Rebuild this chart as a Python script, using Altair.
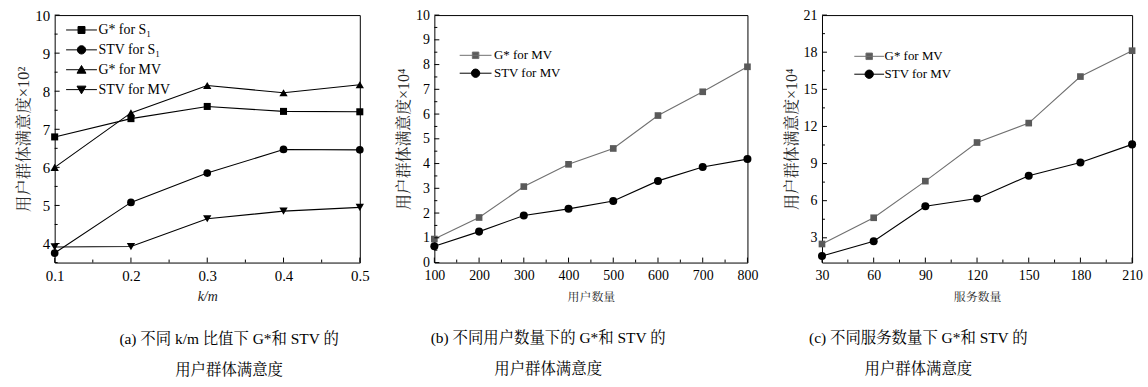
import altair as alt
import pandas as pd

SERIF = "Liberation Serif, Noto Serif CJK SC, Noto Sans CJK SC"

# ---- (a) user-group satisfaction vs k/m ----
km = [0.1, 0.2, 0.3, 0.4, 0.5]
a_names = ["G* for S₁", "STV for S₁", "G* for MV", "STV for MV"]
a_g_s1 = [6.80, 7.28, 7.60, 7.47, 7.46]
a_stv_s1 = [3.75, 5.08, 5.85, 6.47, 6.46]
a_g_mv = [6.00, 7.43, 8.15, 7.96, 8.17]
a_stv_mv = [3.91, 3.92, 4.65, 4.85, 4.95]
a_xticks = [0.1, 0.2, 0.3, 0.4, 0.5]
a_xminor = [0.15, 0.25, 0.35, 0.45]
a_yticks = [4, 5, 6, 7, 8, 9, 10]
a_yminor = [3.5, 4.5, 5.5, 6.5, 7.5, 8.5, 9.5]

# ---- (b) user-group satisfaction vs number of users ----
users = [100, 200, 300, 400, 500, 600, 700, 800]
b_names = ["G* for MV", "STV for MV"]
b_g = [0.95, 1.82, 3.07, 3.97, 4.61, 5.94, 6.90, 7.91]
b_stv = [0.66, 1.25, 1.90, 2.17, 2.49, 3.30, 3.86, 4.18]
b_xticks = users
b_xminor = [150, 250, 350, 450, 550, 650, 750]
b_yticks = [0, 1, 2, 3, 4, 5, 6, 7, 8, 9, 10]
b_yminor = [0.5, 1.5, 2.5, 3.5, 4.5, 5.5, 6.5, 7.5, 8.5, 9.5]

# ---- (c) user-group satisfaction vs number of services ----
services = [30, 60, 90, 120, 150, 180, 210]
c_names = ["G* for MV", "STV for MV"]
c_g = [2.50, 4.62, 7.58, 10.70, 12.27, 16.03, 18.12]
c_stv = [1.53, 2.72, 5.55, 6.17, 8.02, 9.08, 10.55]
c_xticks = services
c_xminor = [45, 75, 105, 135, 165, 195]
c_yticks = [3, 6, 9, 12, 15, 18, 21]
c_yminor = [1.5, 4.5, 7.5, 10.5, 13.5, 16.5, 19.5]


def legend_path(marker, half_len):
    """Legend glyph: a short line with the series marker in its middle."""
    return f"M-{half_len},0H{half_len}" + marker


SQ = "M-0.7,-0.7H0.7V0.7H-0.7Z"
SQ_S = "M-0.65,-0.65H0.65V0.65H-0.65Z"
CI = "M0.84,0A0.84,0.84,0,1,1,-0.84,0A0.84,0.84,0,1,1,0.84,0Z"
TU = "M0,-0.85L0.9,0.7H-0.9Z"
TD = "M0,0.85L0.9,-0.7H-0.9Z"


def panel(xs, ys_list, names, shapes, sizes, fills, strokes, legend_glyphs,
          xdom, ydom, xticks, xminor, yticks, yminor, W, H,
          xtitle, xtitle_style, xtitle_size, xfmt, ytitle, ytitle_size,
          ytitle_color, label_size, leg_off_edge, leg_sym_off, leg_size,
          leg_row, leg_lab_off, caption, cap_dx):
    rows = []
    for name, ys in zip(names, ys_list):
        for x, y in zip(xs, ys):
            rows.append({"x": x, "y": y, "s": name})
    df = pd.DataFrame(rows)

    xs_scale = alt.Scale(domain=xdom, nice=False, zero=False)
    ys_scale = alt.Scale(domain=ydom, nice=False, zero=False)

    x_axis = alt.Axis(values=xticks, format=xfmt, title=xtitle, grid=False,
                      ticks=False, tickSize=0, domain=False, labelOverlap=False,
                      labelFlush=False, labelFont=SERIF, labelFontSize=label_size,
                      labelColor="black", labelPadding=6, titleFont=SERIF,
                      titleFontSize=xtitle_size, titleFontWeight="normal",
                      titleFontStyle=xtitle_style, titleColor="#222", titleY=34,
                      titleBaseline="middle")
    y_axis = alt.Axis(values=yticks, title=ytitle, grid=False, ticks=False,
                      tickSize=0, domain=False, labelOverlap=False,
                      labelFlush=False, labelFont=SERIF, labelFontSize=label_size,
                      labelColor="black", labelPadding=5, titleFont=SERIF,
                      titleFontSize=ytitle_size, titleFontWeight="normal",
                      titleColor=ytitle_color, titleX=-31, titleY=H / 2,
                      titleAngle=270, titleBaseline="middle", titleAlign="center")

    X = alt.X("x:Q", scale=xs_scale, axis=x_axis)
    Y = alt.Y("y:Q", scale=ys_scale, axis=y_axis)

    layers = []
    for name, sc in zip(names, strokes):
        sub = df[df.s == name]
        layers.append(
            alt.Chart(sub).mark_line(color=sc, strokeWidth=1.1).encode(x=X, y=Y)
        )
    for name, shp, sz, fc in zip(names, shapes, sizes, fills):
        sub = df[df.s == name]
        layers.append(
            alt.Chart(sub).mark_point(shape=shp, size=sz, filled=True, color=fc,
                                      opacity=1, strokeWidth=0)
            .encode(x=X, y=Y)
        )

    leg = alt.Legend(orient="top-left", offset=leg_off_edge, title=None,
                     symbolSize=100, symbolStrokeWidth=1, symbolOpacity=1,
                     symbolOffset=leg_sym_off,
                     labelFont=SERIF, labelFontSize=leg_size, labelColor="black",
                     labelOffset=leg_lab_off, rowPadding=leg_row, padding=0,
                     labelLimit=300)

    # invisible layer that only carries the legend (line + marker glyphs)
    layers.append(
        alt.Chart(df).mark_point(filled=True, opacity=0, size=100).encode(
            x=X, y=Y,
            shape=alt.Shape("s:N", scale=alt.Scale(domain=names, range=legend_glyphs), legend=leg),
            fill=alt.Fill("s:N", scale=alt.Scale(domain=names, range=fills), legend=leg),
            stroke=alt.Stroke("s:N", scale=alt.Scale(domain=names, range=strokes), legend=leg),
        )
    )

    # inward-facing major and minor ticks on the bottom and left edges
    def xtick_layer(vals, length):
        return alt.Chart(pd.DataFrame({"x": vals})).mark_rule(color="black", strokeWidth=1).encode(
            x=X, y=alt.value(H), y2=alt.value(H - length))

    def ytick_layer(vals, length):
        return alt.Chart(pd.DataFrame({"y": vals})).mark_rule(color="black", strokeWidth=1).encode(
            y=Y, x=alt.value(0), x2=alt.value(length))

    layers += [xtick_layer(xticks, 5), xtick_layer(xminor, 3),
               ytick_layer(yticks, 5), ytick_layer(yminor, 3)]

    return alt.layer(*layers).properties(
        width=W, height=H,
        title=alt.TitleParams(text=caption, orient="bottom", anchor="middle",
                              frame="group", dx=cap_dx, offset=29, font=SERIF,
                              fontSize=15.5, fontWeight="normal", lineHeight=31,
                              color="black", baseline="top"),
    )


pa = panel(
    km, [a_g_s1, a_stv_s1, a_g_mv, a_stv_mv], a_names,
    ["square", "circle", "triangle-up", "triangle-down"], [50, 60, 70, 70],
    ["black"] * 4, ["black"] * 4,
    [legend_path(SQ, 3.1), legend_path(CI, 3.1), legend_path(TU, 3.1), legend_path(TD, 3.1)],
    [0.1, 0.5], [3.5, 10], a_xticks, a_xminor, a_yticks, a_yminor, 307, 249,
    "k/m", "italic", 14, ".1f", "用户群体满意度×10²", 16.5, "#2a2a2a", 15,
    8, 12, 14, 6, 10,
    ["(a) 不同 k/m 比值下 G*和 STV 的", "用户群体满意度"], 22,
)

pb = panel(
    users, [b_g, b_stv], b_names, ["square", "circle"], [45, 65],
    ["#5a5a5a", "black"], ["#707070", "black"],
    [legend_path(SQ_S, 3.2), legend_path(CI, 3.2)],
    [100, 800], [0, 10], b_xticks, b_xminor, b_yticks, b_yminor, 315, 249,
    "用户数量", "normal", 12, "d", "用户群体满意度×10⁴", 16, "#222", 14,
    34, 1, 13, 4, 12,
    ["(b) 不同用户数量下的 G*和 STV 的", "用户群体满意度"], -43,
)

pc = panel(
    services, [c_g, c_stv], c_names, ["square", "circle"], [45, 65],
    ["#5a5a5a", "black"], ["#707070", "black"],
    [legend_path(SQ_S, 3.0), legend_path(CI, 3.0)],
    [30, 210], [1, 21], c_xticks, c_xminor, c_yticks, c_yminor, 312, 249,
    "服务数量", "normal", 12, "d", "用户群体满意度×10⁴", 16, "#222", 14,
    35, 6, 13, 4, 9,
    ["(c) 不同服务数量下 G*和 STV 的", "用户群体满意度"], -59,
)

chart = (
    alt.hconcat(pa, pb, pc, spacing=75, bounds="flush")
    .resolve_scale(shape="independent", fill="independent", stroke="independent")
    .configure(padding={"left": 15, "top": 6, "right": 0, "bottom": 0}, font=SERIF,
               background="white")
    .configure_view(stroke="black", strokeWidth=1)
)

chart.save("out.html", embed_options={"renderer": "svg", "actions": False})
